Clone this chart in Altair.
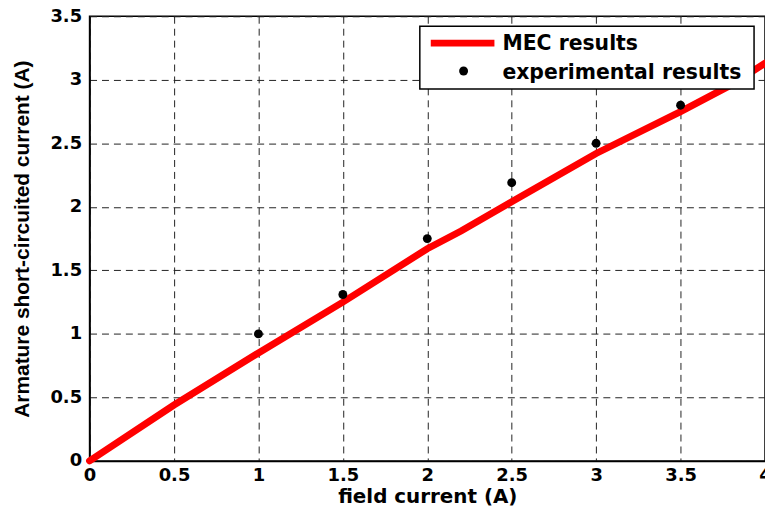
import altair as alt
import pandas as pd

# MEC simulated curve
mec_x = [0.0, 0.5, 1.0, 1.5, 2.0, 2.2, 2.5, 3.0, 3.5, 3.8, 4.0]
mec_y = [0.0, 0.44, 0.85, 1.25, 1.67, 1.81, 2.04, 2.42, 2.75, 2.96, 3.13]

# experimental points
exp_x = [1.0, 1.5, 2.0, 2.5, 3.0, 3.5]
exp_y = [1.0, 1.31, 1.75, 2.19, 2.5, 2.8]

x_ticks = [0, 0.5, 1, 1.5, 2, 2.5, 3, 3.5, 4]
y_ticks = [0, 0.5, 1, 1.5, 2, 2.5, 3, 3.5]

legend_labels = ["MEC results", "experimental results"]

FONT = "DejaVu Sans"
FONT_Y = "Liberation Sans"

mec = pd.DataFrame({"x": mec_x, "y": mec_y})
exp = pd.DataFrame({"x": exp_x, "y": exp_y})

xs = alt.Scale(domain=[0, 4], nice=False)
ys = alt.Scale(domain=[0, 3.5], nice=False)

xax = alt.Axis(values=x_ticks, title="field current (A)", grid=True, format="~g",
               ticks=False, labelFlush=False)
yax = alt.Axis(values=y_ticks, title="Armature short-circuited current (A)", grid=True,
               format="~g", ticks=False, labelFlush=False,
               titleFont=FONT_Y, titleFontSize=21)

line = alt.Chart(mec).mark_line(color="#ff0000", strokeWidth=7, strokeCap="round").encode(
    x=alt.X("x:Q", scale=xs, axis=xax),
    y=alt.Y("y:Q", scale=ys, axis=yax),
)

pts = alt.Chart(exp).mark_point(filled=True, color="black", size=80, opacity=1).encode(
    x=alt.X("x:Q", scale=xs),
    y=alt.Y("y:Q", scale=ys),
)

# legend drawn as overlay
box = alt.Chart(pd.DataFrame({"a": [0]})).mark_rect(
    fill="white", stroke="black", strokeWidth=1.5
).encode(x=alt.value(332), x2=alt.value(668), y=alt.value(10), y2=alt.value(73))
leg_line = alt.Chart(pd.DataFrame({"a": [0]})).mark_rule(
    color="#ff0000", strokeWidth=7
).encode(x=alt.value(343), x2=alt.value(407), y=alt.value(27))
leg_pt = alt.Chart(pd.DataFrame({"a": [0]})).mark_point(
    filled=True, color="black", size=80, opacity=1
).encode(x=alt.value(376), y=alt.value(55))
leg_t1 = alt.Chart(pd.DataFrame({"t": [legend_labels[0]]})).mark_text(
    align="left", baseline="middle", font=FONT, fontSize=20.5, fontWeight="bold", color="black"
).encode(x=alt.value(415), y=alt.value(28), text="t:N")
leg_t2 = alt.Chart(pd.DataFrame({"t": [legend_labels[1]]})).mark_text(
    align="left", baseline="middle", font=FONT, fontSize=20.5, fontWeight="bold", color="black"
).encode(x=alt.value(415), y=alt.value(57), text="t:N")

chart = alt.layer(line, pts, box, leg_line, leg_pt, leg_t1, leg_t2).properties(
    width=679, height=447,
    autosize=alt.AutoSizeParams(type="none"),
    padding={"left": 82, "top": 7, "right": 0, "bottom": 44},
    background="white",
).configure_view(
    stroke="black", strokeWidth=1.5
).configure_axis(
    domainColor="black", domainWidth=1.5,
    gridColor="#222222", gridDash=[7, 5], gridWidth=1, gridOpacity=1,
    labelFont=FONT, labelFontSize=18, labelFontWeight="bold", labelColor="black",
    titleFont=FONT, titleFontSize=20, titleFontWeight="bold", titleColor="black",
).configure_axisX(
    labelPadding=6, titlePadding=2,
).configure_axisY(
    labelPadding=8, titlePadding=18,
)

chart.save("out.html", embed_options={"renderer": "svg", "actions": False})
